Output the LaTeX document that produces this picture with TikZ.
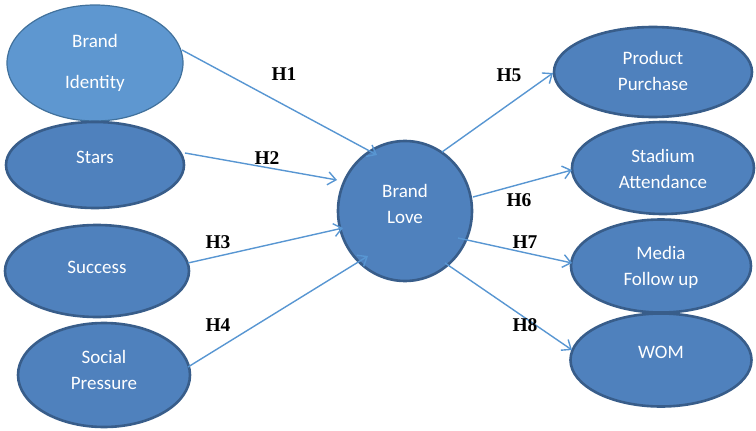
\documentclass[tikz,border=0pt]{standalone}
\usepackage{fontspec}
\setmainfont{Carlito}
\newfontfamily\hfont{Liberation Serif}
\usetikzlibrary{shapes.geometric,arrows.meta,calc}
\definecolor{ovfill}{RGB}{79,129,189}
\definecolor{ovline}{RGB}{56,93,138}
\definecolor{idfill}{RGB}{94,151,208}
\definecolor{idline}{RGB}{65,113,156}
\definecolor{arrcol}{RGB}{88,150,210}
\tikzset{
  ov/.style={ellipse, draw=ovline, fill=ovfill, line width=2.6pt, inner sep=0pt},
  ovtext/.style={text=white, align=center, font=\fontsize{19}{26}\selectfont},
  link/.style={draw=arrcol, line width=1.4pt,
    -{Straight Barb[length=8pt,width=13pt,line width=1.4pt]}},
  hyp/.style={font=\hfont\fontsize{19.5}{20}\selectfont\bfseries, text=black}
}
\begin{document}
\begin{tikzpicture}[x=1pt,y=-1pt]
\useasboundingbox (0,0) rectangle (756,431);

% antecedents
\node[ellipse, draw=idline, fill=idfill, line width=1.2pt, minimum width=176pt, minimum height=116pt,
  label={[ovtext, font=\fontsize{19}{41}\selectfont]center:Brand\\Identity}] (bi) at (95,63) {};
\node[ov, minimum width=178pt, minimum height=86pt,
  label={[ovtext, yshift=8pt]center:Stars}] (st) at (95,165) {};
\node[ov, minimum width=184pt, minimum height=92pt,
  label={[ovtext, yshift=4pt]center:Success}] (su) at (97,271) {};
\node[ov, minimum width=172pt, minimum height=104pt,
  label={[ovtext, yshift=5pt]center:Social\\Pressure}] (sp) at (104,375) {};

% central construct
\node[ov, minimum width=134pt, minimum height=140pt,
  label={[ovtext, yshift=7pt]center:Brand\\Love}] (bl) at (405,211) {};

% outcomes
\node[ov, minimum width=198pt, minimum height=90pt,
  label={[ovtext, yshift=1pt]center:Product\\Purchase}] (pp) at (653,72) {};
\node[ov, minimum width=182pt, minimum height=92pt,
  label={[ovtext, yshift=-1pt]center:Stadium\\Attendance}] (sa) at (663,168) {};
\node[ov, minimum width=180pt, minimum height=93pt,
  label={[ovtext, yshift=-1pt]center:Media\\Follow up}] (mf) at (661,266) {};
\node[ov, minimum width=181pt, minimum height=93pt,
  label={[ovtext, yshift=8pt]center:WOM}] (wm) at (661,360) {};

% hypothesised paths
\draw[link] ($(bi)+(87,-13)$) -- ($(bl)+(-28,-56)$);
\draw[link] ($(st)+(90,-12)$) -- ($(bl)+(-68,-31)$);
\draw[link] ($(su)+(91,-8)$)  -- ($(bl)+(-62,17)$);
\draw[link] ($(sp)+(84,-8)$)  -- ($(bl)+(-37,45)$);
\draw[link] ($(bl)+(37,-59)$) -- ($(pp)+(-100,1)$);
\draw[link] ($(bl)+(68,-14)$) -- ($(sa)+(-91,2)$);
\draw[link] ($(bl)+(53,27)$)  -- ($(mf)+(-89,-3)$);
\draw[link] ($(bl)+(40,52)$)  -- ($(wm)+(-89,-10)$);

% path labels
\node[hyp] (h1) at (284,74) {H1};
\node[hyp] (h2) at (267,158) {H2};
\node[hyp] (h3) at (218,242) {H3};
\node[hyp] (h4) at (218,325) {H4};
\node[hyp] (h5) at (509,75) {H5};
\node[hyp] (h6) at (519,200) {H6};
\node[hyp] (h7) at (525,242) {H7};
\node[hyp] (h8) at (525,325) {H8};
\end{tikzpicture}
\end{document}
